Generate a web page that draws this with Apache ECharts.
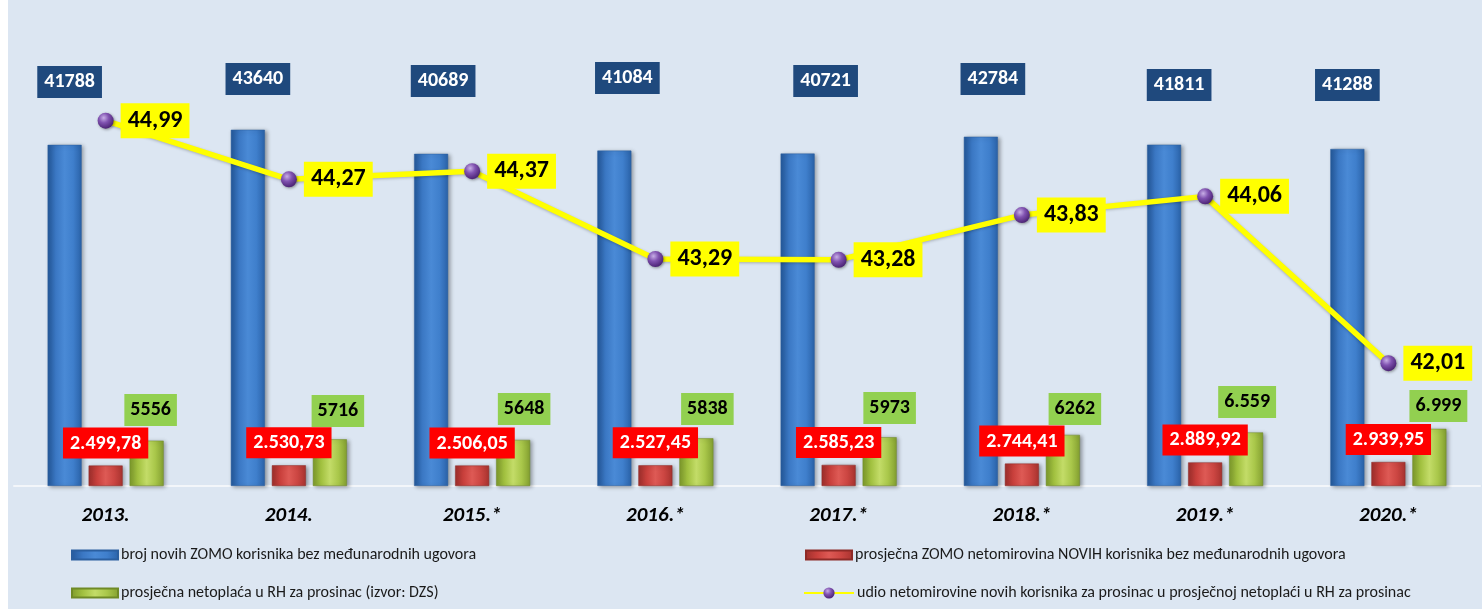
<!DOCTYPE html>
<html>
<head>
<meta charset="utf-8">
<script src="https://cdn.jsdelivr.net/npm/echarts@6/dist/echarts.min.js"></script>
<style>
  html, body { margin: 0; padding: 0; background: #ffffff; }
  #chart { position: absolute; left: 8px; top: 0; width: 1474px; height: 609px; background: #dce6f2; }
</style>
</head>
<body>
<div id="chart"></div>
<script>
// Years on the category axis
const years = ['2013.', '2014.', '2015.*', '2016.*', '2017.*', '2018.*', '2019.*', '2020.*'];
// Number of new ZOMO users without international agreements
const newUsers = [41788, 43640, 40689, 41084, 40721, 42784, 41811, 41288];
// Average ZOMO net benefit of new users (kn)
const avgBenefit = [2499.78, 2530.73, 2506.05, 2527.45, 2585.23, 2744.41, 2889.92, 2939.95];
// Average net wage in Croatia for December (DZS)
const avgNetWage = [5556, 5716, 5648, 5838, 5973, 6262, 6559, 6999];
// Share of benefit in the average net wage (%)
const benefitShare = [44.99, 44.27, 44.37, 43.29, 43.28, 43.83, 44.06, 42.01];
// Wage labels written with a thousands separator
const wageGrouped = [false, false, false, false, false, false, true, true];

// Label placement: [horizontal shift from bar centre, label centre y in px]
const userLabelSpots = [[5, 82], [10, 79], [12, 81], [13, 78], [28, 81], [12, 79], [15, 85], [0, 85]];
const wageLabelSpots = [[4, 410], [8, 411], [11, 409], [11, 409], [10, 408], [12, 409], [1, 402], [9, 406]];

const SERIES_NAMES = [
  'broj novih ZOMO korisnika bez međunarodnih ugovora',
  'prosječna ZOMO netomirovina NOVIH korisnika bez međunarodnih ugovora',
  'prosječna netoplaća u RH za prosinac (izvor: DZS)',
  'udio netomirovine novih korisnika za prosinac u prosječnoj netoplaći u RH za prosinac'
];

const FONT = 'Carlito, Lato, "Open Sans", sans-serif';
const BAR_W = 34;

function hrGrad(stops) {
  return new echarts.graphic.LinearGradient(0, 0, 1, 0, stops.map((c, i) => ({ offset: i / (stops.length - 1), color: c })));
}
const blueFill = hrGrad(['#24589a', '#3b78c4', '#4a8ad6', '#3f7fcc', '#2a62a8']);
const redFill = hrGrad(['#9e2f2c', '#c9403c', '#de5a55', '#cc4642', '#a8332f']);
const greenFill = hrGrad(['#7d9a2c', '#a2c140', '#c3dc68', '#a9c74a', '#839f30']);

function fmtDec(v) {
  const parts = v.toFixed(2).split('.');
  return parts[0].replace(/\B(?=(\d{3})+(?!\d))/g, '.') + ',' + parts[1];
}
function fmtInt(v, grouped) {
  const s = String(Math.round(v));
  return grouped ? s.replace(/\B(?=(\d{3})+(?!\d))/g, '.') : s;
}

const chart = echarts.init(document.getElementById('chart'), null, { renderer: 'canvas' });

const barShadow = { shadowBlur: 4, shadowColor: 'rgba(0,0,0,0.35)', shadowOffsetX: 2, shadowOffsetY: 1 };

const option = {
  backgroundColor: '#dce6f2',
  animation: false,
  grid: { left: 6, right: 2, top: 6, bottom: 123, containLabel: false },
  xAxis: {
    type: 'category',
    data: years,
    axisTick: { show: false },
    axisLine: { show: true, lineStyle: { color: '#f3f6fa', width: 2 } },
    axisLabel: { margin: 19, fontFamily: FONT, fontSize: 21, fontWeight: 'bold', fontStyle: 'italic', color: '#000' },
    splitLine: { show: false }
  },
  yAxis: [
    { type: 'value', min: 0, max: 58800, show: false },
    { type: 'value', min: 40.5, max: 46.4, show: false }
  ],
  legend: [
    { data: [SERIES_NAMES[0]], left: 63, top: 547, icon: 'rect', itemWidth: 46, itemHeight: 9 },
    { data: [SERIES_NAMES[1]], left: 797, top: 547, icon: 'rect', itemWidth: 46, itemHeight: 9 },
    { data: [SERIES_NAMES[2]], left: 63, top: 585, icon: 'rect', itemWidth: 46, itemHeight: 9 },
    { data: [SERIES_NAMES[3]], left: 795, top: 585, itemWidth: 50, itemHeight: 14 }
  ].map(l => Object.assign(l, {
    orient: 'horizontal', selectedMode: false, padding: 0,
    textStyle: { fontFamily: FONT, fontSize: 16, color: '#1a1a1a', padding: [0, 0, 0, -2] }
  })),
  series: [
    {
      name: SERIES_NAMES[0], type: 'bar', data: newUsers, barWidth: BAR_W, barGap: '20.6%',
      itemStyle: Object.assign({ color: blueFill, borderColor: '#2b5f9f', borderWidth: 0.5 }, barShadow),
      label: {
        show: true, formatter: p => String(p.value), color: '#ffffff', fontFamily: FONT, fontSize: 20, fontWeight: 'bold',
        backgroundColor: '#1f497d', padding: [6, 7, 6, 7], align: 'center', verticalAlign: 'middle'
      },
      z: 2
    },
    {
      name: SERIES_NAMES[1], type: 'bar', data: avgBenefit, barWidth: BAR_W,
      itemStyle: Object.assign({ color: redFill, borderColor: '#8e2a27', borderWidth: 0.5 }, barShadow),
      label: {
        show: true, position: 'top', distance: 7, formatter: p => fmtDec(p.value), color: '#ffffff', fontFamily: FONT,
        fontSize: 20, fontWeight: 'bold', backgroundColor: '#ff0000', padding: [6, 7, 5, 7]
      },
      z: 2
    },
    {
      name: SERIES_NAMES[2], type: 'bar', data: avgNetWage, barWidth: BAR_W,
      itemStyle: Object.assign({ color: greenFill, borderColor: '#6f8a26', borderWidth: 0.5 }, barShadow),
      label: {
        show: true, formatter: p => fmtInt(p.value, wageGrouped[p.dataIndex]), color: '#000000', fontFamily: FONT,
        fontSize: 20, fontWeight: 'bold', backgroundColor: '#92d050', padding: [6, 6, 6, 6], align: 'center', verticalAlign: 'middle'
      },
      z: 2
    },
    {
      name: SERIES_NAMES[3], type: 'line', yAxisIndex: 1, data: benefitShare,
      symbol: 'circle', symbolSize: 16,
      lineStyle: { color: '#ffff00', width: 5.5, shadowBlur: 3, shadowColor: 'rgba(0,0,0,0.25)', shadowOffsetY: 1 },
      itemStyle: {
        color: new echarts.graphic.RadialGradient(0.38, 0.32, 0.7, [
          { offset: 0, color: '#c7aee6' },
          { offset: 0.45, color: '#8052b0' },
          { offset: 1, color: '#4a2273' }
        ]),
        borderWidth: 0, shadowBlur: 3, shadowColor: 'rgba(0,0,0,0.4)', shadowOffsetX: 1, shadowOffsetY: 1
      },
      label: {
        show: true, position: 'right', distance: 7, formatter: p => p.value.toFixed(2).replace('.', ','),
        color: '#000000', fontFamily: FONT, fontSize: 24, fontWeight: 'bold', backgroundColor: '#ffff00',
        padding: [6, 7, 5, 7]
      },
      z: 5
    }
  ]
};

chart.setOption(option);

// Place the count and wage labels on fixed rows above the bars, using the axis scale
function placeLabels(values, spots) {
  return values.map((v, i) => {
    const barTop = chart.convertToPixel({ yAxisIndex: 0 }, v);
    return { value: v, label: { position: [BAR_W / 2 + spots[i][0], spots[i][1] - barTop] } };
  });
}
chart.setOption({
  series: [
    { data: placeLabels(newUsers, userLabelSpots) },
    {},
    { data: placeLabels(avgNetWage, wageLabelSpots) },
    {}
  ]
});
</script>
</body>
</html>
